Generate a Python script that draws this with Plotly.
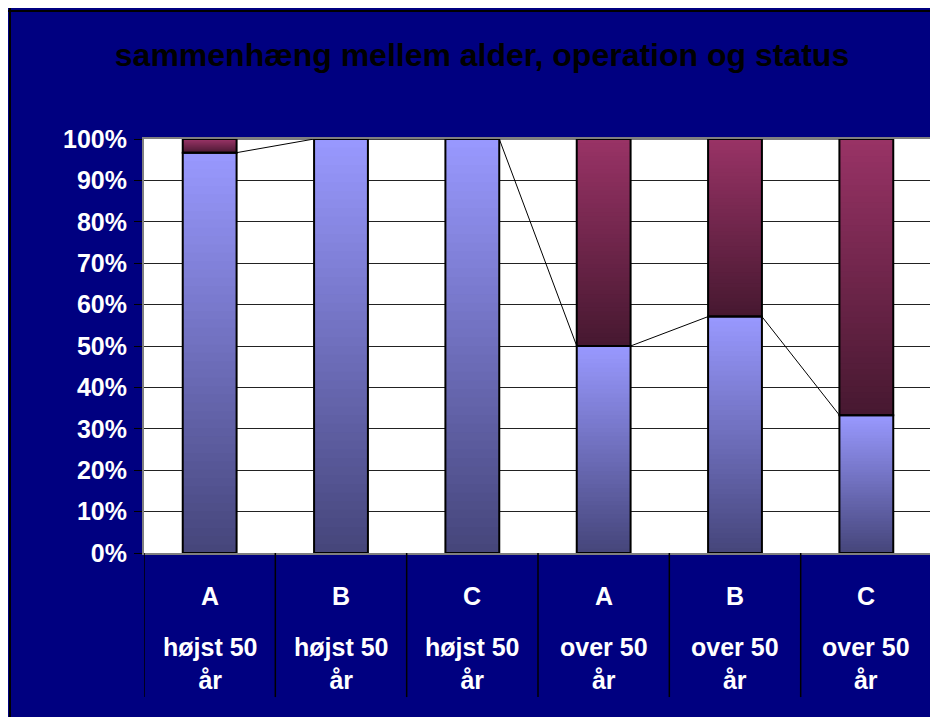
import plotly.graph_objects as go

# ---- data ----
categories = ["A", "B", "C", "A", "B", "C"]
age_groups = ["højst 50 år", "højst 50 år", "højst 50 år", "over 50 år", "over 50 år", "over 50 år"]
series_lower = [96.7, 100.0, 100.0, 50.0, 57.1, 33.3]   # lower (blue) series, %
series_upper = [3.3, 0.0, 0.0, 50.0, 42.9, 66.7]         # upper (maroon) series, %
y_ticks = [0, 10, 20, 30, 40, 50, 60, 70, 80, 90, 100]
y_tick_labels = ["0%", "10%", "20%", "30%", "40%", "50%", "60%", "70%", "80%", "90%", "100%"]
title_text = "sammenhæng mellem alder, operation og status"

# ---- style ----
NAVY = "#000080"
BAR_W = 0.41
N_SLICES = 48
LOWER_TOP, LOWER_BOTTOM = "#9999FF", "#45457A"
UPPER_TOP, UPPER_BOTTOM = "#993366", "#461830"
FONT = "Liberation Sans"


def hex_to_rgb(h):
    h = h.lstrip("#")
    return tuple(int(h[i:i + 2], 16) for i in (0, 2, 4))


def lerp(c_bottom, c_top, t):
    a, b = hex_to_rgb(c_bottom), hex_to_rgb(c_top)
    return "rgb(%d,%d,%d)" % tuple(round(a[i] + (b[i] - a[i]) * t) for i in range(3))


xs = list(range(len(categories)))
fig = go.Figure()

# gradient-filled stacked bars: each segment split into thin overlapping slices
for vals, bases, cb, ct in [
    (series_lower, [0.0] * len(xs), LOWER_BOTTOM, LOWER_TOP),
    (series_upper, series_lower, UPPER_BOTTOM, UPPER_TOP),
]:
    for k in range(N_SLICES):
        t = (k + 0.5) / N_SLICES
        top_k = min(k + 2, N_SLICES)
        fig.add_trace(go.Bar(
            x=xs,
            y=[v * (top_k - k) / N_SLICES for v in vals],
            base=[b + v * k / N_SLICES for v, b in zip(vals, bases)],
            width=BAR_W,
            marker=dict(color=lerp(cb, ct, t), line=dict(width=0)),
            showlegend=False, hoverinfo="skip",
        ))

# bar outlines
fig.add_trace(go.Bar(x=xs, y=series_lower, base=[0] * len(xs), width=BAR_W,
                     marker=dict(color="rgba(0,0,0,0)", line=dict(color="black", width=2)),
                     showlegend=False, hoverinfo="skip"))
fig.add_trace(go.Bar(x=xs, y=series_upper, base=series_lower, width=BAR_W,
                     marker=dict(color="rgba(0,0,0,0)", line=dict(color="black", width=2)),
                     showlegend=False, hoverinfo="skip"))

# series lines connecting the tops of each series between neighbouring bars
tops_lower = series_lower
tops_upper = [a + b for a, b in zip(series_lower, series_upper)]
for tops in (tops_lower, tops_upper):
    lx, ly = [], []
    for i in range(len(xs) - 1):
        lx += [xs[i] + BAR_W / 2, xs[i + 1] - BAR_W / 2, None]
        ly += [tops[i], tops[i + 1], None]
    fig.add_trace(go.Scatter(x=lx, y=ly, mode="lines", line=dict(color="black", width=1),
                             showlegend=False, hoverinfo="skip"))

# category labels (two rows) and divider lines
label_font = dict(family=FONT, size=25, color="white", weight="bold")
annotations = []
for i, (c, a) in enumerate(zip(categories, age_groups)):
    annotations.append(dict(x=xs[i], y=-0.103, xref="x", yref="paper", text=c, showarrow=False,
                            yanchor="middle", font=label_font))
    parts = a.rsplit(" ", 1)
    annotations.append(dict(x=xs[i], y=-0.268, xref="x", yref="paper", text="<br>".join(parts),
                            showarrow=False, yanchor="middle", font=label_font))

shapes = []
for i in range(len(xs) + 1):
    shapes.append(dict(type="line", xref="x", yref="paper", x0=i - 0.5, x1=i - 0.5,
                       y0=0, y1=-0.348, line=dict(color="black", width=1.5)))

# black border along the top and left edge of the navy area
shapes += [
    dict(type="line", xref="paper", x0=-1, x1=2, yref="paper", ysizemode="pixel", yanchor=1,
         y0=128, y1=128, line=dict(color="black", width=2)),
    dict(type="line", xref="paper", xsizemode="pixel", xanchor=0, x0=-134, x1=-134,
         yref="paper", y0=-1, y1=2, line=dict(color="black", width=2)),
]

fig.update_layout(
    width=938, height=717,
    margin=dict(l=136, r=14, t=131, b=172),
    paper_bgcolor=NAVY, plot_bgcolor="white",
    barmode="overlay",
    title=dict(text=title_text, x=474 / 938, xref="container", xanchor="center",
               y=1 - 47 / 717, yref="container", yanchor="middle",
               font=dict(family=FONT, size=32, color="black", weight="bold")),
    xaxis=dict(range=[-0.5, len(xs) - 0.5], showticklabels=False, ticks="", showgrid=False,
               zeroline=False, showline=True, linecolor="#808080", linewidth=2, mirror=True),
    yaxis=dict(range=[0, 100], tickvals=y_ticks, ticktext=y_tick_labels, ticks="outside",
               ticklen=8, tickcolor="black", tickwidth=1, showgrid=True, gridcolor="#222222",
               gridwidth=1, zeroline=False, showline=True, linecolor="#808080", linewidth=2,
               mirror=True, tickfont=label_font, ticklabelstandoff=2),
    annotations=annotations,
    shapes=shapes,
)

fig.write_html("out.html")
